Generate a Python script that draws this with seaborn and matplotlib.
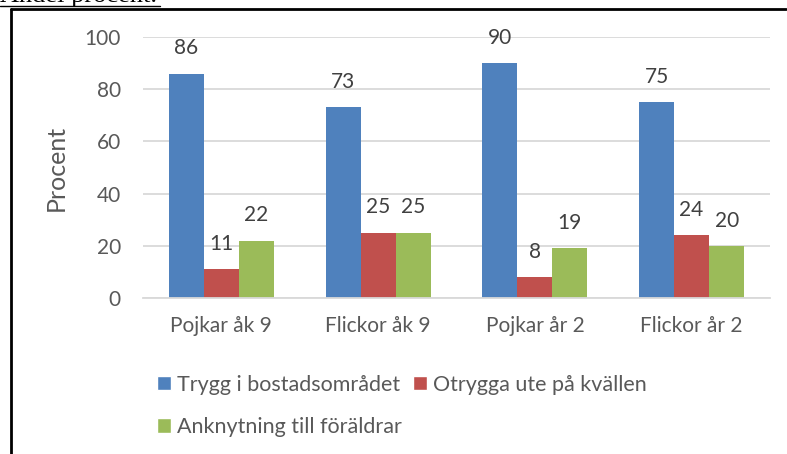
import pandas as pd
import numpy as np
import matplotlib
matplotlib.use('Agg')
import matplotlib.pyplot as plt
import seaborn as sns
from matplotlib.patches import Patch
from matplotlib.lines import Line2D

groups = ['Pojkar åk 9', 'Flickor åk 9', 'Pojkar år 2', 'Flickor år 2']
series = ['Trygg i bostadsområdet', 'Otrygga ute på kvällen', 'Anknytning till föräldrar']
trygg = [86, 73, 90, 75]
otrygga = [11, 25, 8, 24]
anknytning = [22, 25, 19, 20]
colors = ['#4F81BD', '#C0504D', '#9BBB59']

df = pd.DataFrame({
    'grupp': groups * 3,
    'serie': [series[0]] * 4 + [series[1]] * 4 + [series[2]] * 4,
    'procent': trygg + otrygga + anknytning,
})

sns.set_style('white')
plt.rcParams['font.family'] = ['Lato', 'DejaVu Sans']
txt = '#595959'

fig = plt.figure(figsize=(7.87, 4.54), dpi=100)
ax = fig.add_axes([143 / 787, 1 - 298 / 454, (770 - 143) / 787, (298 - 37) / 454])

sns.barplot(data=df, x='grupp', y='procent', hue='serie', palette=colors,
            width=0.67, gap=0, linewidth=0, saturation=1, legend=False, ax=ax)

for c in ax.containers:
    ax.bar_label(c, padding=11, fontsize=15, color='#404040')

ax.set_ylim(0, 100)
ax.set_xlim(-0.5, 3.5)
ax.set_yticks(range(0, 101, 20))
ax.yaxis.grid(True, color='#D9D9D9', linewidth=1.3)
ax.set_axisbelow(True)
for s in ['top', 'right', 'left']:
    ax.spines[s].set_visible(False)
ax.spines['bottom'].set_color('#D9D9D9')
ax.spines['bottom'].set_linewidth(1.3)
ax.tick_params(axis='both', length=0, labelsize=15, labelcolor=txt)
ax.tick_params(axis='y', pad=16)
ax.tick_params(axis='x', pad=13)
ax.set_xlabel('')
ax.set_ylabel('Procent', fontsize=18, color=txt, labelpad=12)

handles = [Patch(facecolor=colors[0], label=series[0]),
           Patch(facecolor=colors[2], label=series[2]),
           Patch(facecolor=colors[1], label=series[1])]
fig.legend(handles=handles, ncol=2, loc='upper left', bbox_to_anchor=(148 / 787, 1 - 366 / 454),
           frameon=False, fontsize=15.5, labelcolor=txt, handlelength=0.65, handleheight=0.65,
           handletextpad=0.3, columnspacing=0.5, labelspacing=1.05, borderaxespad=0)

# frame and cut-off heading
fig.add_artist(Line2D([10.5 / 787, 10.5 / 787], [0, 1 - 8.5 / 454], color='black', linewidth=2))
fig.add_artist(Line2D([10.5 / 787, 786 / 787], [1 - 8.5 / 454, 1 - 8.5 / 454], color='black', linewidth=2))
fig.text(0, 1 - 2 / 454, 'Andel procent.', family='Liberation Serif', fontsize=19,
         color='black', va='baseline', ha='left')
fig.add_artist(Line2D([0, 160 / 787], [1 - 5.5 / 454, 1 - 5.5 / 454], color='black', linewidth=1))

fig.savefig('out.png', dpi=100)
